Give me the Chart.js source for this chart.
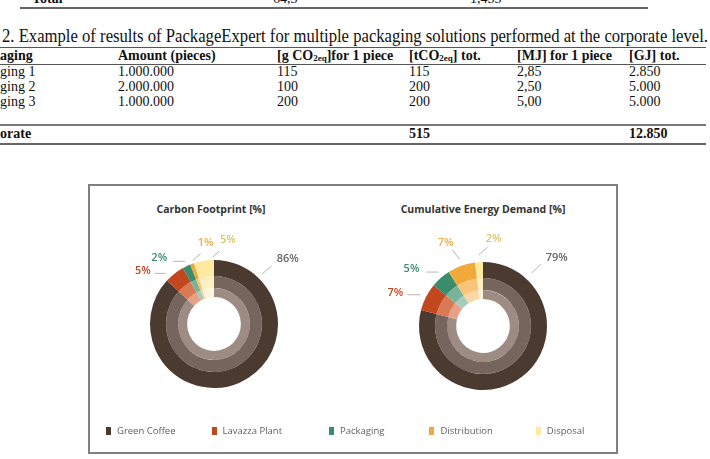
<!DOCTYPE html>
<html>
<head>
<meta charset="utf-8">
<script src="https://cdn.jsdelivr.net/npm/chart.js@4"></script>
<style>
  html, body { margin: 0; padding: 0; background: #fff; }
  body { width: 710px; height: 459px; position: relative; overflow: hidden; font-family: "Liberation Serif", "Times New Roman", serif; color: #111; }
  .t { position: absolute; white-space: nowrap; font-size: 14px; line-height: 16px; }
  .b { font-weight: bold; }
  .cut { position: absolute; right: 100%; }
  .rule { position: absolute; background: #555; height: 1px; }
  #caption { position: absolute; left: 2px; top: 26px; font-size: 18px; line-height: 20px; white-space: nowrap; transform-origin: left top; }
  #box { position: absolute; left: 88px; top: 184px; width: 530px; height: 270px; box-sizing: border-box; border: 2px solid #7f7f7f; }
  .ctitle { position: absolute; width: 300px; text-align: center; font-family: "Open Sans", sans-serif; font-weight: bold; font-size: 10.5px; color: #333; }
  .chartWrap { position: absolute; width: 200px; height: 200px; }
  #legend { position: absolute; left: 106px; top: 424px; display: flex; font-family: "Open Sans", sans-serif; font-size: 9.5px; color: #5f5f5f; }
  #legend span.sw { display: inline-block; width: 5px; height: 8px; margin-right: 6px; vertical-align: -1px; }
</style>
</head>
<body>

<!-- tail of the previous table -->
<div class="t b" style="left:32px; top:-9px;">Total</div>
<div class="t" style="left:273px; top:-9px;">64,5</div>
<div class="t" style="left:470px; top:-9px;">1,455</div>
<div class="rule" style="left:20px; top:7px; width:628px; height:1.5px; background:#666;"></div>

<div id="caption"><span class="cut">Table&nbsp;</span>2. Example of results of PackageExpert for multiple packaging solutions performed at the corporate level.</div>
<div class="rule" style="left:0; top:47px; width:706px;"></div>
<div class="rule" style="left:0; top:64px; width:706px;"></div>
<div class="rule" style="left:0; top:124px; width:706px; height:2px; background:#777;"></div>
<div class="rule" style="left:0; top:143px; width:706px; height:1.5px; background:#666;"></div>
<div id="table"></div>

<div id="box"></div>
<div class="ctitle" style="left:61px; top:202px;">Carbon Footprint [%]</div>
<div class="ctitle" style="left:333px; top:202px;">Cumulative Energy Demand [%]</div>
<div class="chartWrap" style="left:114px; top:224px;"><canvas id="carbonChart"></canvas></div>
<div class="chartWrap" style="left:383px; top:226px;"><canvas id="energyChart"></canvas></div>
<div id="legend"></div>

<script>
// table 2 contents
const tableHeader = ['Packaging', 'Amount (pieces)', '[g CO<sub>2eq</sub>]for 1 piece', '[tCO<sub>2eq</sub>] tot.', '[MJ] for 1 piece', '[GJ] tot.'];
const tableRows = [
    ['Packaging 1', '1.000.000', '115', '115', '2,85', '2.850'],
    ['Packaging 2', '2.000.000', '100', '200', '2,50', '5.000'],
    ['Packaging 3', '1.000.000', '200', '200', '5,00', '5.000']
];
const tableTotal = ['Corporate', '', '', '515', '', '12.850'];

// chart data
const categories = ['Green Coffee', 'Lavazza Plant', 'Packaging', 'Distribution', 'Disposal'];
const carbonFootprint = [86, 5, 2, 1, 5];
const energyDemand = [79, 7, 5, 7, 2];

const outerColors = ['#4b3a30', '#c2461e', '#3a8c6c', '#f2a93c', '#fde9a0'];
const middleColors = ['#75655c', '#d97a55', '#78b49b', '#f8c47a', '#fdeec0'];
const innerColors = ['#9c8c83', '#e6a186', '#a6cbbb', '#fbd6a6', '#fef5da'];
const labelColors = ['#666666', '#c2461e', '#3a8c6c', '#f0ae45', '#d8c66a'];

const colX = [0, 118, 277, 409, 517, 629];
const legendGaps = [0, 36, 47, 45, 43];

function buildTable() {
    const table = document.getElementById('table');
    const addCell = (text, x, y, bold, cut) => {
        const d = document.createElement('div');
        d.className = 't' + (bold ? ' b' : '');
        d.style.left = x + 'px';
        d.style.top = y + 'px';
        if (cut) {
            d.innerHTML = '<span class="cut">' + cut + '</span>' + text.slice(cut.length);
        } else {
            d.innerHTML = text.replace(/<sub>/g, '<sub style="font-size:9px;vertical-align:-1px">');
        }
        table.appendChild(d);
    };
    tableHeader.forEach((h, i) => addCell(h, colX[i], 48, true, i === 0 ? 'Pack' : null));
    tableRows.forEach((row, r) => {
        row.forEach((v, i) => addCell(v, colX[i], 64 + r * 15, false, i === 0 ? 'Packa' : null));
    });
    tableTotal.forEach((v, i) => { if (v) addCell(v, colX[i], 126, true, i === 0 ? 'Corp' : null); });
}

function fitCaption() {
    const cap = document.getElementById('caption');
    const w = cap.getBoundingClientRect().width;
    cap.style.transform = 'scaleX(' + (706 / w) + ')';
}

function buildLegend() {
    const legend = document.getElementById('legend');
    categories.forEach((c, i) => {
        const item = document.createElement('div');
        item.style.marginLeft = legendGaps[i] + 'px';
        item.innerHTML = '<span class="sw" style="background:' + outerColors[i] + '"></span>' + c;
        legend.appendChild(item);
    });
}

const leaderLabels = {
    id: 'leaderLabels',
    afterDatasetsDraw(chart, args, opts) {
        const ctx = chart.ctx;
        const meta = chart.getDatasetMeta(0);
        const values = chart.data.datasets[0].data;
        ctx.save();
        ctx.font = '600 11px "Open Sans", sans-serif';
        ctx.textBaseline = 'middle';
        opts.items.forEach((it, i) => {
            const arc = meta.data[i];
            const p = arc.getProps(['x', 'y', 'startAngle', 'endAngle', 'outerRadius'], true);
            const a = p.startAngle + (p.endAngle - p.startAngle) * it.frac;
            const r = p.outerRadius + it.gap;
            const x0 = p.x + Math.cos(a) * r;
            const y0 = p.y + Math.sin(a) * r;
            const x1 = x0 + it.dx;
            const y1 = y0 + it.dy;
            ctx.strokeStyle = '#b5b5b5';
            ctx.lineWidth = 1;
            ctx.beginPath();
            ctx.moveTo(x0, y0);
            ctx.lineTo(x1, y1);
            ctx.stroke();
            ctx.fillStyle = labelColors[i];
            ctx.textAlign = it.align;
            ctx.fillText(values[i] + '%', x1 + it.tx, y1 + it.ty);
        });
        ctx.restore();
    }
};

function makeChart(id, values, items) {
    const ctx = document.getElementById(id).getContext('2d');
    const ring = (colors, weight) => ({
        data: values,
        backgroundColor: colors,
        borderWidth: 0,
        weight: weight
    });
    return new Chart(ctx, {
        type: 'doughnut',
        data: {
            labels: categories,
            datasets: [ring(outerColors, 16), ring(middleColors, 12), ring(innerColors, 9)]
        },
        options: {
            responsive: true,
            maintainAspectRatio: false,
            animation: false,
            cutout: '42%',
            rotation: 0,
            events: [],
            layout: { padding: 36 },
            plugins: {
                legend: { display: false },
                tooltip: { enabled: false },
                leaderLabels: { items: items }
            }
        },
        plugins: [leaderLabels]
    });
}

window.onload = () => {
    buildTable();
    fitCaption();
    buildLegend();
    makeChart('carbonChart', carbonFootprint, [
        { frac: 0.14, gap: 5, dx: 10, dy: -8, tx: 5, ty: -7, align: 'left' },
        { frac: 0.2, gap: 6, dx: -11, dy: 0, tx: -4, ty: -2, align: 'right' },
        { frac: 0.6, gap: 5, dx: -12, dy: 0, tx: -6, ty: -3, align: 'right' },
        { frac: 0.9, gap: 3, dx: 8, dy: -7, tx: 5, ty: -11, align: 'center' },
        { frac: 0.95, gap: 3, dx: 6, dy: -6, tx: 9, ty: -11, align: 'center' }
    ]);
    makeChart('energyChart', energyDemand, [
        { frac: 0.15, gap: 8, dx: 9, dy: -9, tx: 5, ty: -6, align: 'left' },
        { frac: 0.48, gap: 6, dx: -13, dy: 0, tx: -4, ty: -2, align: 'right' },
        { frac: 0.6, gap: 6, dx: -12, dy: 0, tx: -7, ty: -3, align: 'right' },
        { frac: 0.52, gap: 7, dx: -7, dy: -9, tx: -7, ty: -7, align: 'center' },
        { frac: 0.5, gap: 7, dx: 9, dy: -8, tx: 6, ty: -8, align: 'center' }
    ]);
};
</script>
</body>
</html>
